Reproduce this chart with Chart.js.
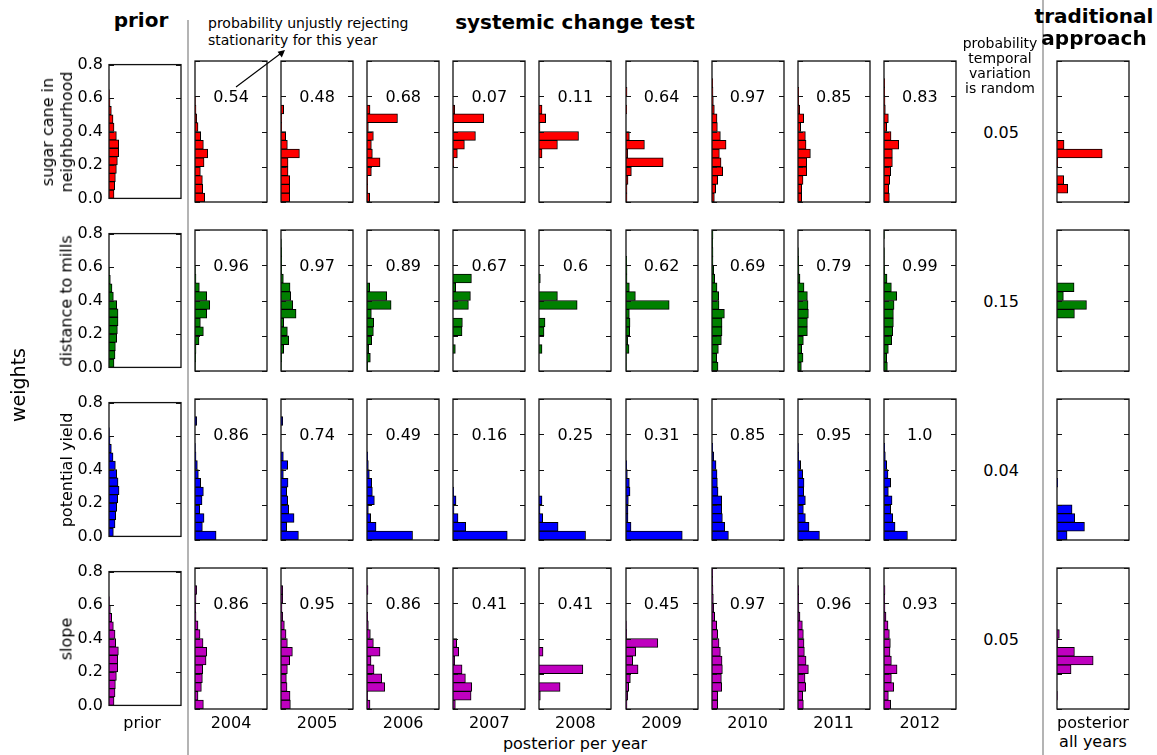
<!DOCTYPE html>
<html><head><meta charset="utf-8">
<script src="https://cdn.jsdelivr.net/npm/chart.js@4.4.1/dist/chart.umd.min.js"></script>
<style>
html,body{margin:0;padding:0;background:#fff;}
#wrap{position:relative;width:1157px;height:755px;overflow:hidden;font-family:"DejaVu Sans",sans-serif;color:#000;background:#fff;}
canvas{position:absolute;}
.t{position:absolute;white-space:nowrap;transform:translate(-50%,-50%);line-height:1;}
.b{font-weight:bold;font-size:20px;}
.r{position:absolute;white-space:pre;text-align:center;transform:translate(-50%,-50%) rotate(-90deg);line-height:19px;font-size:16px;}
</style></head><body><div id="wrap"></div>
<script>
// ---- data ----
const binCenters = [0.025,0.075,0.125,0.175,0.225,0.275,0.325,0.375,0.425,0.475,0.525,0.575,0.625,0.675,0.725,0.775];
const yTicks = [0.0,0.2,0.4,0.6,0.8];
const columnLabels = ['prior','2004','2005','2006','2007','2008','2009','2010','2011','2012'];
const rowLabels = ['sugar cane in\nneighbourhood','distance to mills','potential yield','slope'];
const rowColors = ['#ff0000','#008000','#0000ff','#bf00bf'];

// histogram bar lengths per bin (0-0.05 ... 0.75-0.8); columns: prior, 2004..2012, all years
const sugarCane = [
  [15,17,19,22,25,29,29,22,15,12,7,3,1,0,0,0],
  [29,23,22,16,27,38,25,17,9,5,3,1,0,0,0,0],
  [26,26,26,21,21,55,19,14,2,2,8,0,0,0,0,0],
  [8,2,2,13,39,16,13,19,4,91,9,0,0,0,0,0],
  [0,0,0,0,2,13,34,67,2,92,5,0,0,0,0,0],
  [0,0,0,0,0,9,55,118,3,20,9,0,0,0,0,0],
  [3,3,6,16,111,5,55,10,0,0,2,0,3,0,0,0],
  [7,11,17,32,27,22,42,25,16,15,7,4,3,2,0,0],
  [11,11,15,26,26,37,24,22,8,17,5,2,2,0,0,0],
  [16,14,17,20,25,25,44,21,8,13,4,3,2,2,0,0],
  [0,32,20,0,2,135,21,0,0,0,0,0,0,0,0,0]
];
const distanceToMills = [
  [15,18,19,23,25,27,27,23,13,9,4,1,0,0,0,0],
  [1,2,3,12,25,16,35,44,35,13,3,1,0,0,0,0],
  [1,2,8,23,19,8,45,35,29,27,7,2,2,2,1,0],
  [2,10,5,14,19,20,13,72,59,8,0,0,0,0,0,0],
  [0,0,7,0,27,28,0,46,52,8,55,0,0,0,0,0],
  [0,0,9,0,15,18,0,114,55,0,4,0,0,0,0,0],
  [1,1,9,5,11,12,10,129,28,10,3,3,2,0,0,0],
  [18,14,19,28,30,30,37,21,20,15,8,5,3,3,2,3],
  [10,15,11,16,28,28,31,30,28,18,6,3,2,1,0,0],
  [10,8,13,23,26,28,28,30,38,22,9,2,1,1,0,1],
  [0,0,0,0,0,0,52,88,19,51,0,0,0,0,0,0]
];
const potentialYield = [
  [13,18,20,23,26,30,27,23,19,12,7,3,1,0,0,0],
  [63,22,27,14,21,25,17,10,7,3,1,0,0,5,0,0],
  [52,17,39,23,20,17,21,7,20,7,0,0,0,5,0,0],
  [136,27,11,4,22,16,14,7,4,2,0,0,0,0,0,0],
  [162,38,15,3,9,2,0,0,0,0,0,0,0,0,0,0],
  [139,57,11,3,9,0,0,0,0,0,0,0,0,0,0,0],
  [168,15,6,6,7,12,10,4,2,0,0,0,0,0,0,0],
  [49,38,31,29,29,18,16,15,12,5,2,0,0,0,0,0],
  [64,33,22,16,22,17,18,14,8,2,1,0,0,0,0,0],
  [70,33,26,20,24,13,20,12,8,4,2,0,0,0,0,0],
  [30,82,53,45,0,0,2,0,0,0,0,0,0,0,0,0]
];
const slope = [
  [15,18,19,22,26,26,28,20,18,13,8,4,1,0,0,0],
  [25,9,19,22,23,33,35,24,15,9,3,2,3,5,0,0],
  [28,27,18,16,19,26,34,19,15,10,5,3,5,5,0,0],
  [9,2,53,44,21,12,39,19,10,4,2,0,0,3,0,0],
  [7,54,56,37,27,5,17,11,0,0,0,0,0,0,0,0],
  [0,4,63,0,131,0,12,0,0,0,0,0,0,0,0,0],
  [3,5,8,13,36,20,29,95,2,1,0,0,0,0,0,0],
  [17,17,29,28,31,30,25,21,17,14,8,5,4,3,2,2],
  [16,14,23,21,31,24,19,18,16,13,6,3,2,2,0,0],
  [20,13,29,22,39,22,18,19,16,12,6,3,2,3,0,0],
  [0,1,0,0,42,108,52,2,7,0,0,0,0,0,0,0]
];
const stationarityProb = [
  ['0.54','0.48','0.68','0.07','0.11','0.64','0.97','0.85','0.83'],
  ['0.96','0.97','0.89','0.67','0.6','0.62','0.69','0.79','0.99'],
  ['0.86','0.74','0.49','0.16','0.25','0.31','0.85','0.95','1.0'],
  ['0.86','0.95','0.86','0.41','0.41','0.45','0.97','0.96','0.93']
];
const randomProb = ['0.05','0.15','0.04','0.05'];
const allRows = [sugarCane, distanceToMills, potentialYield, slope];

// ---- layout ----
const PW = 72, PH = 141, PADV = 12, XMAX = 215, AXW = 50;
const colLeft = [109,195,281.1,367.2,453.3,539.4,625.5,711.6,797.7,883.8,1057];
const rowTop = [61,230,399,568];
const wrap = document.getElementById('wrap');
Chart.defaults.font.family = '"DejaVu Sans", sans-serif';
Chart.defaults.color = '#000';

const framePlugin = {
  id:'frame',
  afterDraw(chart){
    const {ctx, chartArea:a} = chart, ys = chart.scales.y;
    ctx.save();
    ctx.strokeStyle = '#111'; ctx.lineWidth = 1.3;
    ctx.strokeRect(a.left, a.top, a.right - a.left, a.bottom - a.top);
    ctx.lineWidth = 1;
    for (const v of yTicks) {
      const p = Math.round(ys.getPixelForValue(v)) + 0.5;
      ctx.beginPath();
      ctx.moveTo(a.left, p); ctx.lineTo(a.left + 5, p);
      ctx.moveTo(a.right, p); ctx.lineTo(a.right - 5, p);
      ctx.stroke();
    }
    ctx.restore();
  }
};

function addText(txt, x, y, cls, style) {
  const d = document.createElement('div');
  d.className = cls || 't';
  d.textContent = txt;
  d.style.left = x + 'px'; d.style.top = y + 'px';
  if (style) Object.assign(d.style, style);
  wrap.appendChild(d);
  return d;
}

function makePanel(r, c, values, color) {
  const isPrior = c === 0;
  const padL = isPrior ? AXW : 3;
  const L = colLeft[c], T = rowTop[r];
  const cv = document.createElement('canvas');
  const w = PW + padL + 3, h = PH + 2 * PADV;
  cv.width = w; cv.height = h;
  cv.style.width = w + 'px'; cv.style.height = h + 'px';
  cv.style.left = (L - padL) + 'px'; cv.style.top = (T - PADV) + 'px';
  wrap.appendChild(cv);
  const yScale = {
    type:'linear', min:0, max:0.8, offset:false, display:isPrior,
    grid:{display:false, drawTicks:false, offset:false}, border:{display:false},
    ticks:{stepSize:0.2, padding:6, color:'#000', font:{size:16},
           callback: v => Number(v).toFixed(1)}
  };
  if (isPrior) yScale.afterFit = s => { s.width = AXW; };
  new Chart(cv, {
    type:'bar',
    data:{datasets:[{
      data: binCenters.map((b,i) => ({x: values[i], y: b})),
      backgroundColor: color, borderColor:'#000', borderWidth:1, borderSkipped:'start',
      barPercentage:1, categoryPercentage:1
    }]},
    options:{
      indexAxis:'y', responsive:false, animation:false, devicePixelRatio:1,
      layout:{padding:{left: isPrior ? 0 : 3, right:3, top:PADV, bottom:PADV}},
      plugins:{legend:{display:false}, tooltip:{enabled:false}},
      scales:{
        x:{type:'linear', min:0, max:XMAX, display:false, offset:false},
        y:yScale
      }
    },
    plugins:[framePlugin]
  });
}

// separators & arrow
const svgNS = 'http://www.w3.org/2000/svg';
const svg = document.createElementNS(svgNS,'svg');
svg.setAttribute('width','1157'); svg.setAttribute('height','755');
svg.style.position='absolute'; svg.style.left='0'; svg.style.top='0';
svg.innerHTML =
  '<line x1="188" y1="20" x2="188" y2="755" stroke="#b4b4b4" stroke-width="2"/>' +
  '<line x1="1043" y1="0" x2="1043" y2="755" stroke="#b4b4b4" stroke-width="2"/>' +
  '<line x1="236" y1="87" x2="280" y2="54" stroke="#000" stroke-width="1.1"/>' +
  '<polygon points="285,50 277.6,51.8 281.8,57.4" fill="#000"/>';
wrap.appendChild(svg);

for (let r = 0; r < 4; r++) {
  for (let c = 0; c < 11; c++) makePanel(r, c, allRows[r][c], rowColors[r]);
  const T = rowTop[r];
  for (let k = 0; k < 9; k++) {
    addText(stationarityProb[r][k], colLeft[k+1] + PW/2, T + PH * (1 - 0.6/0.8) + 1, 't', {fontSize:'16px'});
  }
  addText(randomProb[r], 1001, T + PH * (1 - 0.4/0.8) + 1, 't', {fontSize:'16px'});
  addText(rowLabels[r], r === 0 ? 57 : 66, T + PH/2, 'r');
}

// titles
addText('prior', 141, 20, 't b');
addText('systemic change test', 575, 22, 't b');
addText('traditional', 1094, 16, 't b');
addText('approach', 1094, 38, 't b');
addText('probability unjustly rejecting', 208, 23, 't', {fontSize:'14px', transform:'translate(0,-50%)'});
addText('stationarity for this year', 208, 40, 't', {fontSize:'14px', transform:'translate(0,-50%)'});
['probability','temporal','variation','is random'].forEach((s,i) => addText(s, 1000, 43 + 15*i, 't', {fontSize:'14px'}));
addText('weights', 18, 385, 'r', {fontSize:'19px'});

// column labels
for (let c = 0; c < 10; c++) {
  addText(columnLabels[c], c === 0 ? 142 : colLeft[c] + PW/2, 723, 't', {fontSize:'16px'});
}
addText('posterior per year', 575, 744, 't', {fontSize:'16px'});
addText('posterior', 1093, 723, 't', {fontSize:'16px'});
addText('all years', 1093, 742, 't', {fontSize:'16px'});
</script>
</body></html>
